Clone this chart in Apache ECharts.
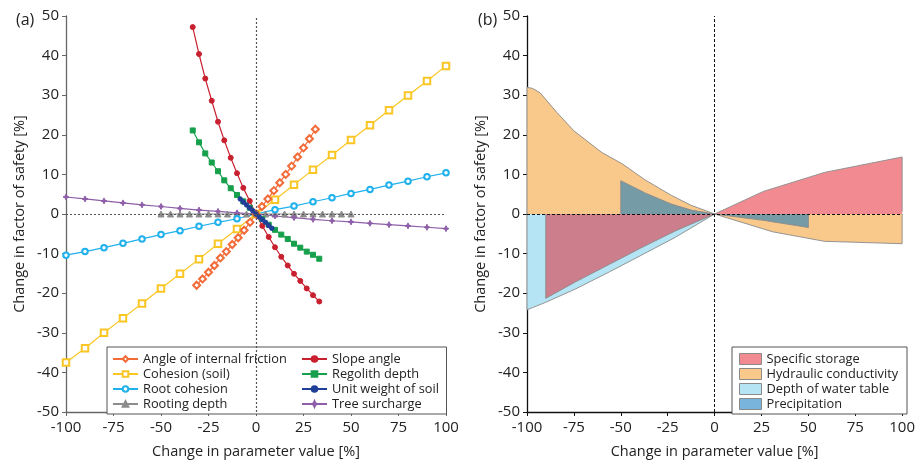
<!DOCTYPE html>
<html>
<head>
<meta charset="utf-8">
<script src="https://cdn.jsdelivr.net/npm/echarts@6/dist/echarts.min.js"></script>
<style>
  html, body { margin: 0; padding: 0; background: #fff; }
  #chart { width: 918px; height: 464px; }
</style>
</head>
<body>
<div id="chart"></div>
<script>
// ---- panel (a) data ----
const frictionX = [-31.25, -28.13, -25, -21.88, -18.75, -15.63, -12.5, -9.38, -6.25, -3.13, 0, 3.13, 6.25, 9.38, 12.5, 15.63, 18.75, 21.88, 25, 28.13, 31.25];
const frictionY = [-18.0, -16.4, -14.7, -13.0, -11.1, -9.5, -7.7, -6.0, -4.1, -2.1, 0, 1.9, 3.8, 5.9, 7.9, 10.0, 12.1, 14.4, 16.7, 19.0, 21.4];

const tenX = [-100, -90, -80, -70, -60, -50, -40, -30, -20, -10, 0, 10, 20, 30, 40, 50, 60, 70, 80, 90, 100];
const cohesionY = [-37.5, -33.9, -30.0, -26.3, -22.6, -18.8, -15.1, -11.4, -7.5, -3.8, 0, 3.6, 7.4, 11.2, 14.9, 18.7, 22.4, 26.2, 29.9, 33.6, 37.4];
const rootY = [-10.4, -9.5, -8.5, -7.4, -6.3, -5.2, -4.2, -3.1, -2.1, -1.2, 0, 1.1, 2.0, 3.1, 4.1, 5.2, 6.2, 7.3, 8.3, 9.4, 10.4];
const treeY = [4.3, 3.8, 3.3, 2.8, 2.3, 1.9, 1.4, 1.0, 0.65, 0.3, 0, -0.5, -0.9, -1.35, -1.7, -2.0, -2.35, -2.7, -3.0, -3.35, -3.7];

const rootingX = [-50, -45, -40, -35, -30, -25, -20, -15, -10, -5, 0, 5, 10, 15, 20, 25, 30, 35, 40, 45, 50];
const rootingY = [0, 0, 0, 0, 0, 0, 0, 0, 0, 0, 0, 0, 0, 0, 0, 0, 0, 0, 0, 0, 0];

const slopeX = [-33.3, -30, -26.7, -23.3, -20, -16.7, -13.3, -10, -6.7, -3.3, 0, 3.3, 6.7, 10, 13.3, 16.7, 20, 23.3, 26.7, 30, 33.3];
const slopeY = [47.2, 40.4, 34.2, 28.6, 23.3, 18.6, 14.2, 10.3, 6.6, 3.3, 0, -3.0, -5.8, -8.4, -10.8, -13.0, -15.1, -16.9, -18.8, -20.5, -22.1];
const regolithY = [21.1, 18.1, 15.3, 13.0, 10.8, 8.5, 6.5, 4.8, 3.2, 1.6, 0, -1.3, -2.7, -4.0, -5.2, -6.3, -7.5, -8.5, -9.5, -10.3, -11.3];

const unitX = [-8.33, -6.67, -5, -3.33, -1.67, 0, 1.67, 3.33, 5, 6.67, 8.33];
const unitY = [3.8, 3.0, 2.3, 1.5, 0.8, 0, -0.7, -1.4, -2.1, -2.9, -3.6];

// ---- panel (b) data (outlines of the ranges) ----
const waterX = [-100, -100, -90, -74, -56, -39, -21, 0];
const waterY = [0, -24.2, -22.3, -18.9, -14.6, -10.4, -5.9, 0];
const hydroX = [-100, -100, -97, -93, -84, -75, -60, -49, -37, -23, -12.5, 0, 31, 58.6, 100, 100];
const hydroY = [0, 32.0, 31.7, 30.6, 25.6, 21.0, 15.5, 12.6, 8.6, 4.7, 2.2, 0, -4.5, -6.9, -7.5, 0];
const storageX = [-90, -90, -74, -56, -39, -21, 0, 26, 58.6, 100, 100];
const storageY = [0, -21.3, -17.1, -12.7, -8.5, -4.3, 0, 5.7, 10.5, 14.4, 0.6];
const precipX = [-50, -50, -42, -37, -30, -23, -12.5, 0, 26, 50, 50];
const precipY = [0, 8.4, 6.5, 5.3, 3.9, 2.5, 1.0, 0, -1.6, -3.4, 0];

const legendA1 = ['Angle of internal friction', 'Cohesion (soil)', 'Root cohesion', 'Rooting depth'];
const legendA2 = ['Slope angle', 'Regolith depth', 'Unit weight of soil', 'Tree surcharge'];
const legendB = ['Specific storage', 'Hydraulic conductivity', 'Depth of water table', 'Precipitation'];
const legendBColors = ['#f28b91', '#f9c88b', '#b5e4f5', '#78b4dc'];

const zip = (xs, ys) => xs.map((x, i) => [x, ys[i]]);

const FONT = 'Open Sans';

const lineSeries = (name, xs, ys, color, symbol, size) => ({
  name,
  type: 'line',
  xAxisIndex: 0,
  yAxisIndex: 0,
  data: zip(xs, ys),
  symbol,
  symbolSize: size,
  lineStyle: { color, width: 1.2 },
  itemStyle: { color, borderColor: color, borderWidth: 1 },
  z: 3,
});

const areaSeries = (name, xs, ys, fill) => ({
  name,
  type: 'line',
  xAxisIndex: 1,
  yAxisIndex: 1,
  data: zip(xs, ys),
  symbol: 'none',
  lineStyle: { color: '#8a8a8a', width: 0.9 },
  itemStyle: { color: fill },
  areaStyle: { color: fill, opacity: 1, origin: 0 },
});

const xAxisBase = (gridIndex, axisColor) => ({
  type: 'value',
  gridIndex,
  min: -100,
  max: 100,
  interval: 25,
  name: 'Change in parameter value [%]',
  nameLocation: 'middle',
  nameGap: 32,
  nameTextStyle: { fontFamily: FONT, fontSize: 14.5, color: '#222' },
  axisLine: { onZero: false, lineStyle: { color: axisColor, width: 1.3 } },
  axisTick: { show: true, length: 4, lineStyle: { color: axisColor } },
  axisLabel: { fontFamily: FONT, fontSize: 15, color: '#222', margin: 8 },
  splitLine: { show: false },
});

const yAxisBase = (gridIndex, axisColor) => ({
  type: 'value',
  gridIndex,
  min: -50,
  max: 50,
  interval: 10,
  name: 'Change in factor of safety [%]',
  nameLocation: 'middle',
  nameGap: 39,
  nameTextStyle: { fontFamily: FONT, fontSize: 14.5, color: '#222' },
  axisLine: { show: true, onZero: false, lineStyle: { color: axisColor, width: 1.3 } },
  axisTick: { show: true, length: 4, lineStyle: { color: axisColor } },
  axisLabel: { fontFamily: FONT, fontSize: 15, color: '#222', margin: 7 },
  splitLine: { show: false },
});

const legendText = { fontFamily: FONT, fontSize: 12.8, color: '#222', lineHeight: 14 };

const option = {
  animation: false,
  backgroundColor: '#fff',
  title: [
    { text: '(a)', left: 11, top: 7, textStyle: { fontFamily: FONT, fontSize: 16, fontWeight: 'normal', color: '#222' } },
    { text: '(b)', left: 473, top: 7, textStyle: { fontFamily: FONT, fontSize: 16, fontWeight: 'normal', color: '#222' } },
  ],
  grid: [
    { left: 66, right: 472, top: 16, bottom: 50 },
    { left: 527, right: 11, top: 16, bottom: 50 },
  ],
  xAxis: [xAxisBase(0, '#666'), xAxisBase(1, '#111')],
  yAxis: [yAxisBase(0, '#666'), yAxisBase(1, '#111')],
  graphic: [
    { type: 'rect', z: 3, shape: { x: 107, y: 347, width: 339.5, height: 67 }, style: { fill: '#fff', stroke: '#555', lineWidth: 1 } },
    { type: 'rect', z: 3, shape: { x: 732, y: 347, width: 175, height: 67 }, style: { fill: '#fff', stroke: '#555', lineWidth: 1 } },
  ],
  legend: [
    { data: legendA1, orient: 'vertical', left: 112, top: 352, itemWidth: 25, itemHeight: 7, itemGap: 1, padding: 0, textStyle: legendText, z: 5 },
    { data: legendA2, orient: 'vertical', left: 301, top: 352, itemWidth: 25, itemHeight: 7, itemGap: 1, padding: 0, textStyle: legendText, z: 5 },
    {
      data: legendB.map((name, i) => ({ name, itemStyle: { color: legendBColors[i], borderColor: '#8a8a8a', borderWidth: 1 } })),
      orient: 'vertical', left: 739, top: 352, icon: 'rect', itemWidth: 22, itemHeight: 11, itemGap: 1, padding: 0,
      textStyle: legendText, z: 5,
    },
  ],
  series: [
    Object.assign(lineSeries('Rooting depth', rootingX, rootingY, '#8c8c8c', 'triangle', 6), {
      markLine: {
        silent: true,
        symbol: 'none',
        label: { show: false },
        lineStyle: { color: '#555', type: [2, 2], width: 1.2 },
        data: [{ yAxis: 0 }, { xAxis: 0 }],
      },
    }),
    lineSeries('Tree surcharge', tenX, treeY, '#8e5ea9', 'path://M0,-1L0.3,-0.3L1,0L0.3,0.3L0,1L-0.3,0.3L-1,0L-0.3,-0.3Z', 6),
    lineSeries('Root cohesion', tenX, rootY, '#1fb1ec', 'emptyCircle', 5.5),
    lineSeries('Cohesion (soil)', tenX, cohesionY, '#f9c623', 'emptyRect', 6.5),
    lineSeries('Regolith depth', slopeX, regolithY, '#16a04c', 'rect', 5),
    lineSeries('Slope angle', slopeX, slopeY, '#c9202f', 'circle', 5),
    lineSeries('Angle of internal friction', frictionX, frictionY, '#f26b38', 'emptyDiamond', 7),
    lineSeries('Unit weight of soil', unitX, unitY, '#1f3f98', 'circle', 4.5),

    areaSeries('Depth of water table', waterX, waterY, '#b5e4f5'),
    areaSeries('Hydraulic conductivity', hydroX, hydroY, '#f9c88b'),
    areaSeries('Specific storage', storageX, storageY, 'rgba(229,23,35,0.5)'),
    Object.assign(areaSeries('Precipitation', precipX, precipY, 'rgba(10,119,191,0.55)'), {
      markLine: {
        silent: true,
        symbol: 'none',
        label: { show: false },
        lineStyle: { color: '#111', type: [3, 2], width: 1 },
        data: [{ yAxis: 0 }, { xAxis: 0 }],
      },
    }),
  ],
};

const chart = echarts.init(document.getElementById('chart'));
chart.setOption(option);
</script>
</body>
</html>
